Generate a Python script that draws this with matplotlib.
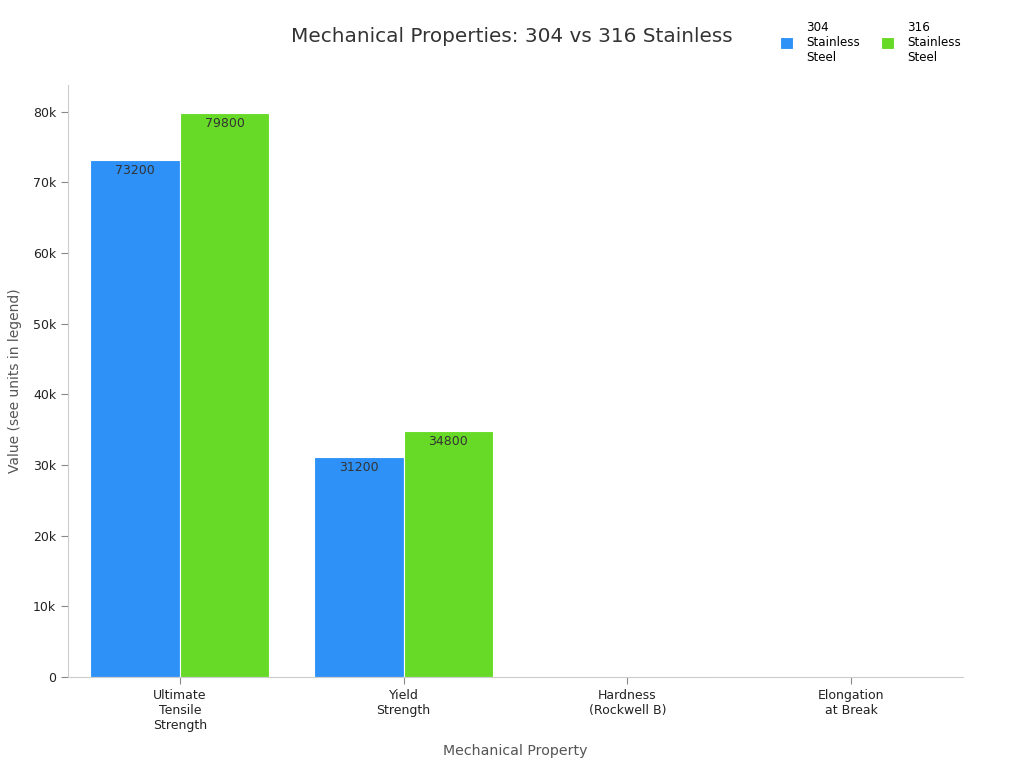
import numpy as np
import matplotlib.pyplot as plt

# data
categories = ['Ultimate\nTensile\nStrength', 'Yield\nStrength', 'Hardness\n(Rockwell B)', 'Elongation\nat Break']
series_names = ['304\nStainless\nSteel', '316\nStainless\nSteel']
vals_304 = [73200, 31200, 70, 70]
vals_316 = [79800, 34800, 79, 60]
colors = ['#2E91F7', '#66DA26']

fig = plt.figure(figsize=(10.24, 7.68), dpi=100)
ax = fig.add_axes([68/1024, 1 - 677/768, (963-68)/1024, (677-85)/768])

x = np.arange(len(categories))
w = 0.4
for i, (vals, col, name) in enumerate(zip([vals_304, vals_316], colors, series_names)):
    pos = x + (i - 0.5) * w
    bars = ax.bar(pos, vals, width=w, color=col, edgecolor='white', linewidth=0.8, label=name)
    for b, v in zip(bars, vals):
        if v > 1000:
            ax.text(b.get_x() + b.get_width() / 2, v - 600, str(v), ha='center', va='top',
                    fontsize=9, color='#333333')

ax.set_xlim(-0.5, 3.5)
ax.set_ylim(0, 83800)
ax.set_yticks(np.arange(0, 80001, 10000))
ax.set_yticklabels(['0'] + ['%dk' % (t // 1000) for t in range(10000, 80001, 10000)])
ax.set_xticks(x)
ax.set_xticklabels(categories, fontsize=9, color='#222222')
ax.tick_params(axis='y', labelsize=9, labelcolor='#222222', color='#888888', length=5)
ax.tick_params(axis='x', color='#888888', length=5)

for s in ['top', 'right']:
    ax.spines[s].set_visible(False)
for s in ['left', 'bottom']:
    ax.spines[s].set_color('#cccccc')

ax.set_xlabel('Mechanical Property', fontsize=10.2, color='#555555', labelpad=9)
ax.set_ylabel('Value (see units in legend)', fontsize=10, color='#555555', labelpad=8)

fig.text(512/1024, 1 - 36/768, 'Mechanical Properties: 304 vs 316 Stainless', ha='center', va='center',
         fontsize=14.4, color='#333333')

ax.legend(loc='upper right', bbox_to_anchor=(972/1024, 1 - 10/768), bbox_transform=fig.transFigure,
          ncol=2, frameon=False, fontsize=8.6, handlelength=1.1, handleheight=1.1,
          columnspacing=1.8, handletextpad=1.1)

fig.savefig('out.png', dpi=100)
